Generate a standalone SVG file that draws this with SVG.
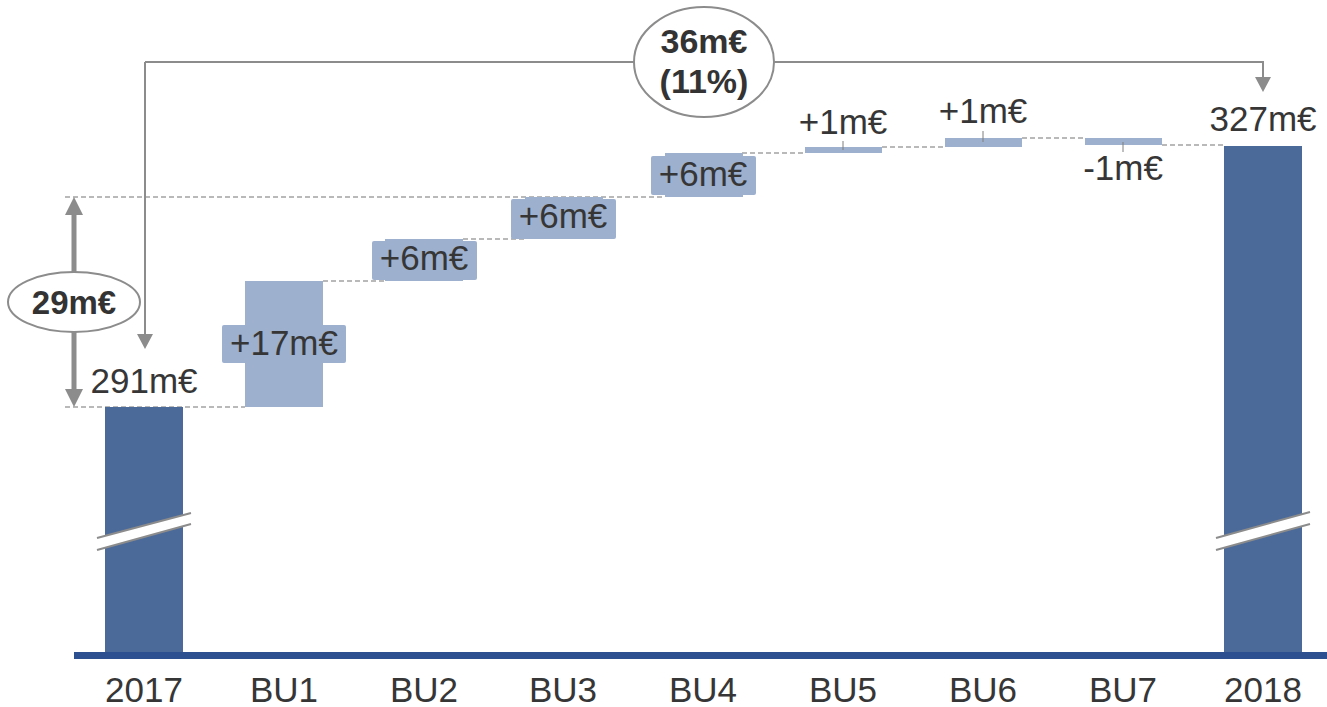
<svg xmlns="http://www.w3.org/2000/svg" width="1327" height="707" viewBox="0 0 1327 707">
<style>
.t{font-family:"Liberation Sans",Arial,sans-serif;fill:#363636;font-size:35px;text-anchor:middle}
.b{font-family:"Liberation Sans",Arial,sans-serif;fill:#333;font-weight:bold;text-anchor:middle}
.dk{fill:#4B6A99}
.lt{fill:#9DB0CE}
.dash{stroke:#A3A3A3;stroke-width:1.3;stroke-dasharray:5 3;fill:none}
.gl{stroke:#8C8C8C;fill:none}
.tick{stroke:#7F7F7F;stroke-width:1}
</style>
<rect width="1327" height="707" fill="#fff"/>
<g id="connectors">
<path class="dash" d="M65,197 H665 M65,407 H245 M323,281 H385 M463,239 H525 M742,153 H805 M882,147 H945 M1022,138 H1085 M1162,145 H1224"/>
<path class="gl" stroke-width="2" d="M145,62 H1263 V77"/>
<path d="M1255,77 L1271,77 L1263,92 Z" fill="#8C8C8C"/>
<path class="gl" stroke-width="2" d="M145,62 V334"/>
<path d="M137,334 L153,334 L145,349 Z" fill="#8C8C8C"/>
<path class="gl" stroke-width="5" d="M74,213 V391"/>
<path d="M65,215 L83,215 L74,197 Z M65,389 L83,389 L74,407 Z" fill="#8C8C8C"/>
</g>
<g id="bar-2017">
<rect class="dk" x="105" y="407" width="78" height="245"/>
<path d="M97,538 L191,513 L191,524 L97,550 Z" fill="#fff"/>
<path class="gl" stroke-width="2" d="M97,538 L191,513 M97,550 L191,524"/>
<text class="t" x="144" y="393">291m€</text>
</g>
<g id="bar-bu1">
<rect class="lt" x="245" y="281" width="78" height="126"/>
<rect class="lt" x="222" y="325" width="124" height="38" rx="2"/>
<text class="t" x="284" y="355">+17m€</text>
</g>
<g id="bar-bu2">
<rect class="lt" x="385" y="239" width="78" height="42"/>
<rect class="lt" x="372" y="241" width="105" height="39" rx="2"/>
<text class="t" x="424" y="270">+6m€</text>
</g>
<g id="bar-bu3">
<rect class="lt" x="525" y="197" width="78" height="42"/>
<rect class="lt" x="511" y="199" width="105" height="40" rx="2"/>
<text class="t" x="563" y="228">+6m€</text>
</g>
<g id="bar-bu4">
<rect class="lt" x="665" y="153" width="78" height="44"/>
<rect class="lt" x="651" y="156" width="105" height="39" rx="2"/>
<text class="t" x="703" y="186">+6m€</text>
</g>
<g id="bar-bu5">
<rect class="lt" x="805" y="147" width="77" height="6"/>
<line class="tick" x1="843" y1="141" x2="843" y2="150"/>
<text class="t" x="843" y="134">+1m€</text>
</g>
<g id="bar-bu6">
<rect class="lt" x="945" y="138" width="77" height="9"/>
<line class="tick" x1="983" y1="131" x2="983" y2="142"/>
<text class="t" x="983" y="123">+1m€</text>
</g>
<g id="bar-bu7">
<rect class="lt" x="1085" y="138" width="77" height="7"/>
<line class="tick" x1="1123" y1="142" x2="1123" y2="152"/>
<text class="t" x="1123" y="180">-1m€</text>
</g>
<g id="bar-2018">
<rect class="dk" x="1224" y="146" width="78" height="506"/>
<path d="M1216,538 L1310,512 L1310,524 L1216,550 Z" fill="#fff"/>
<path class="gl" stroke-width="2" d="M1216,538 L1310,512 M1216,550 L1310,524"/>
<text class="t" x="1263" y="131">327m€</text>
</g>
<g id="axis">
<rect x="74" y="652" width="1253" height="7" fill="#2D5190"/>
<text class="t" x="144" y="702">2017</text>
<text class="t" x="284" y="702">BU1</text>
<text class="t" x="424" y="702">BU2</text>
<text class="t" x="563" y="702">BU3</text>
<text class="t" x="703" y="702">BU4</text>
<text class="t" x="843" y="702">BU5</text>
<text class="t" x="983" y="702">BU6</text>
<text class="t" x="1123" y="702">BU7</text>
<text class="t" x="1263" y="702">2018</text>
</g>
<g id="total-diff">
<ellipse cx="704" cy="62" rx="70" ry="55" fill="#fff" stroke="#8C8C8C" stroke-width="2"/>
<text class="b" x="704" y="53" font-size="34">36m€</text>
<text class="b" x="704" y="93" font-size="34">(11%)</text>
</g>
<g id="growth">
<ellipse cx="74" cy="302" rx="66" ry="30" fill="#fff" stroke="#8C8C8C" stroke-width="2"/>
<text class="b" x="74" y="314" font-size="33">29m€</text>
</g>
</svg>
